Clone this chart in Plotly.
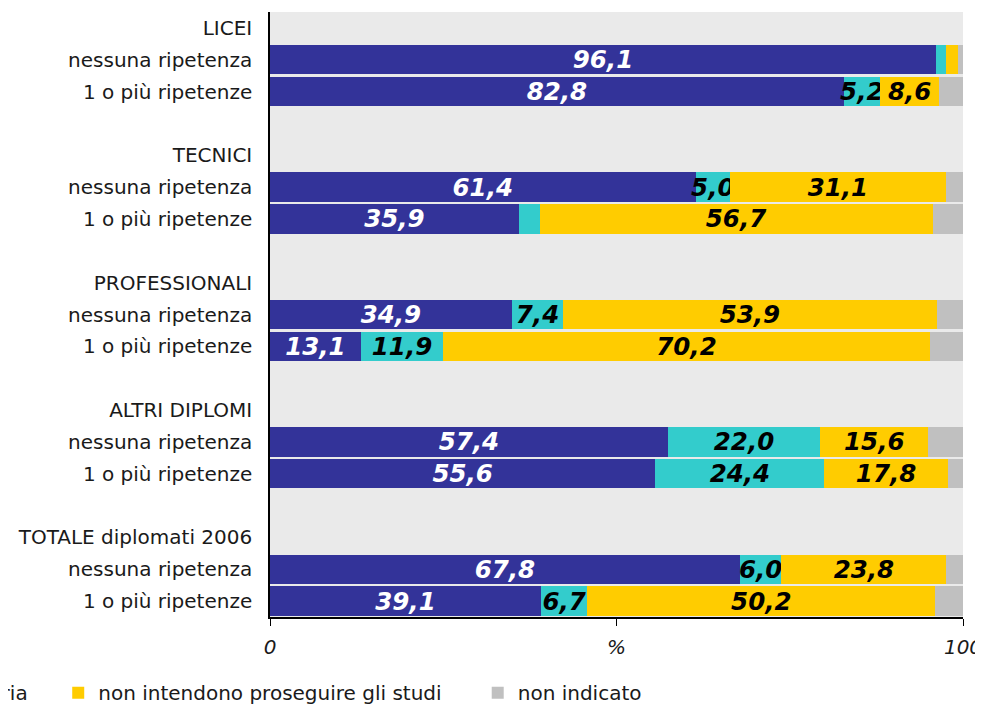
import plotly.graph_objects as go

groups = ["LICEI", "TECNICI", "PROFESSIONALI", "ALTRI DIPLOMI", "TOTALE diplomati 2006"]
subrows = ["nessuna ripetenza", "1 o più ripetenze"]

series_names = [
    "intendono iscriversi all'università",
    "intendono proseguire in formazione non universitaria",
    "non intendono proseguire gli studi",
    "non indicato",
]
series_legend = ["legend", "legend", "legend2", "legend2"]
series_colors = ["#333399", "#33CCCC", "#FFCC00", "#C0C0C0"]
text_colors = ["white", "black", "black", "black"]

# values per bar row (group order, nessuna then 1+)
univ = [96.1, 82.8, 61.4, 35.9, 34.9, 13.1, 57.4, 55.6, 67.8, 39.1]
altra = [1.4, 5.2, 5.0, 3.0, 7.4, 11.9, 22.0, 24.4, 6.0, 6.7]
non_prosegue = [1.8, 8.6, 31.1, 56.7, 53.9, 70.2, 15.6, 17.8, 23.8, 50.2]
non_indicato = [0.7, 3.4, 2.5, 4.4, 3.8, 4.8, 5.0, 2.2, 2.4, 4.0]
series_values = [univ, altra, non_prosegue, non_indicato]
label_min = 5.0

# row structure: header, bar, bar, blank
tick_pos, tick_text, bar_pos = [], [], []
for g, name in enumerate(groups):
    base = 4 * g
    tick_pos.append(base)
    tick_text.append(name)
    for k, s in enumerate(subrows):
        tick_pos.append(base + 1 + k)
        tick_text.append(s)
        bar_pos.append(base + 1 + k)

fig = go.Figure()
for name, col, tcol, vals, lg in zip(series_names, series_colors, text_colors, series_values, series_legend):
    txt = [f"{v:.1f}".replace(".", ",") if (v >= label_min and name != "non indicato") else "" for v in vals]
    fig.add_trace(go.Bar(
        y=bar_pos, x=vals, orientation="h", name=name, legend=lg,
        marker=dict(color=col, line=dict(width=0)),
        text=txt, textposition="inside", insidetextanchor="middle", textangle=0,
        textfont=dict(family="DejaVu Sans", size=24.5, color=tcol, weight="bold", style="italic"),
        hoverinfo="x+name",
    ))

leg_common = dict(orientation="h", yanchor="middle", y=-0.125, font=dict(size=20),
                  traceorder="normal", itemwidth=30, bgcolor="rgba(0,0,0,0)")
fig.update_layout(
    barmode="stack", bargap=0.08,
    width=975, height=697,
    margin=dict(l=262, r=20, t=4, b=88, autoexpand=False),
    paper_bgcolor="white", plot_bgcolor="#EAEAEA",
    font=dict(family="DejaVu Sans", size=20, color="#1a1a1a"),
    uniformtext=dict(minsize=24.5, mode="show"),
    showlegend=True,
    legend=dict(x=-1.7183, xanchor="left", **leg_common),
    legend2=dict(x=-0.3056, xanchor="left", entrywidth=374.5, **leg_common),
)
fig.update_yaxes(
    range=[18.5, -0.5], tickvals=tick_pos, ticktext=tick_text,
    showgrid=False, zeroline=False, showline=True, linecolor="black", linewidth=1.5,
    ticks="", ticklabelstandoff=12,
)
fig.update_xaxes(
    range=[0, 100], tickvals=[0, 50, 100], ticktext=["0", "%", "100"],
    tickfont=dict(style="italic", size=20), showgrid=False, zeroline=False,
    showline=True, linecolor="black", linewidth=1.5, ticks="outside", ticklen=7,
    tickcolor="black", ticklabelstandoff=4,
)
fig.write_html("out.html")
